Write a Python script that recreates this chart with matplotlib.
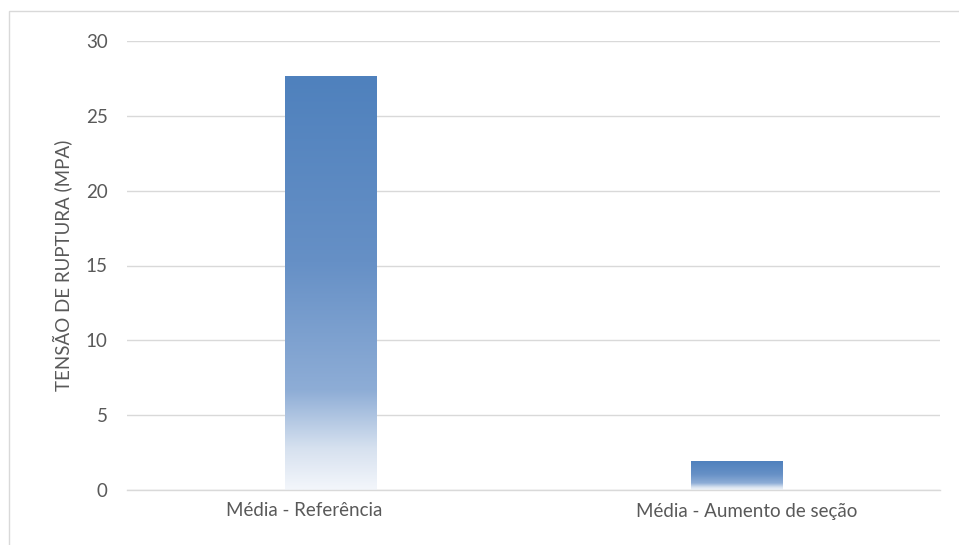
import numpy as np
import matplotlib.pyplot as plt
import matplotlib.transforms as mtransforms
from matplotlib.colors import LinearSegmentedColormap
from matplotlib.patches import Rectangle

categories = ["Média - Referência", "Média - Aumento de seção"]
values = [27.65, 1.9]
yticks = [0, 5, 10, 15, 20, 25, 30]
ylabel = "TENSÃO DE RUPTURA (MPA)"

plt.rcParams['font.family'] = ['Lato', 'DejaVu Sans']
text_color = "#595959"
grid_color = "#d9d9d9"
fs = 13.5

fig = plt.figure(figsize=(9.59, 5.45), dpi=100)
ax = fig.add_axes([127 / 959, 1 - 490 / 545, 813 / 959, 449 / 545])

# Chart-area frame
fig.add_artist(Rectangle((9 / 959, -0.05), 1.2, 1 - 11 / 545 + 0.05,
                         transform=fig.transFigure, fill=False,
                         edgecolor=grid_color, linewidth=1))

# Vertical gradient: blue at the top of each bar fading to white at the base
grad = LinearSegmentedColormap.from_list(
    "bar_fade",
    [(0.0, "#4f81bd"), (0.45, "#6690c6"), (0.76, "#8eadd6"),
     (0.9, "#d6e1ef"), (1.0, "#f3f6fb")])
fade = np.linspace(0, 1, 256).reshape(-1, 1)

x = np.arange(len(categories))
width = 0.224
ax.set_xlim(-0.5, len(categories) - 0.5)
ax.set_ylim(0, 30)

for xi, v in zip(x, values):
    ax.imshow(fade, cmap=grad, aspect="auto", interpolation="bilinear",
              extent=(xi - width / 2, xi + width / 2, 0, v), origin="upper",
              zorder=2)

ax.set_yticks(yticks)
ax.set_xticks(x)
ax.set_xticklabels(categories)
ax.yaxis.grid(True, color=grid_color, linewidth=1)
ax.set_axisbelow(True)
for s in ["top", "right", "left"]:
    ax.spines[s].set_visible(False)
ax.spines["bottom"].set_color(grid_color)
ax.spines["bottom"].set_linewidth(1)
ax.tick_params(axis="both", length=0, labelsize=fs, colors=text_color)
ax.tick_params(axis="y", pad=14)
ax.tick_params(axis="x", pad=9)
ax.set_ylabel(ylabel, fontsize=fs, color=text_color, labelpad=10)

# Category labels sit slightly off their bar centres
for lbl, dx in zip(ax.get_xticklabels(), [-26, 10]):
    lbl.set_transform(lbl.get_transform() +
                      mtransforms.ScaledTranslation(dx / 100, 0, fig.dpi_scale_trans))

fig.savefig("out.png", dpi=100)
